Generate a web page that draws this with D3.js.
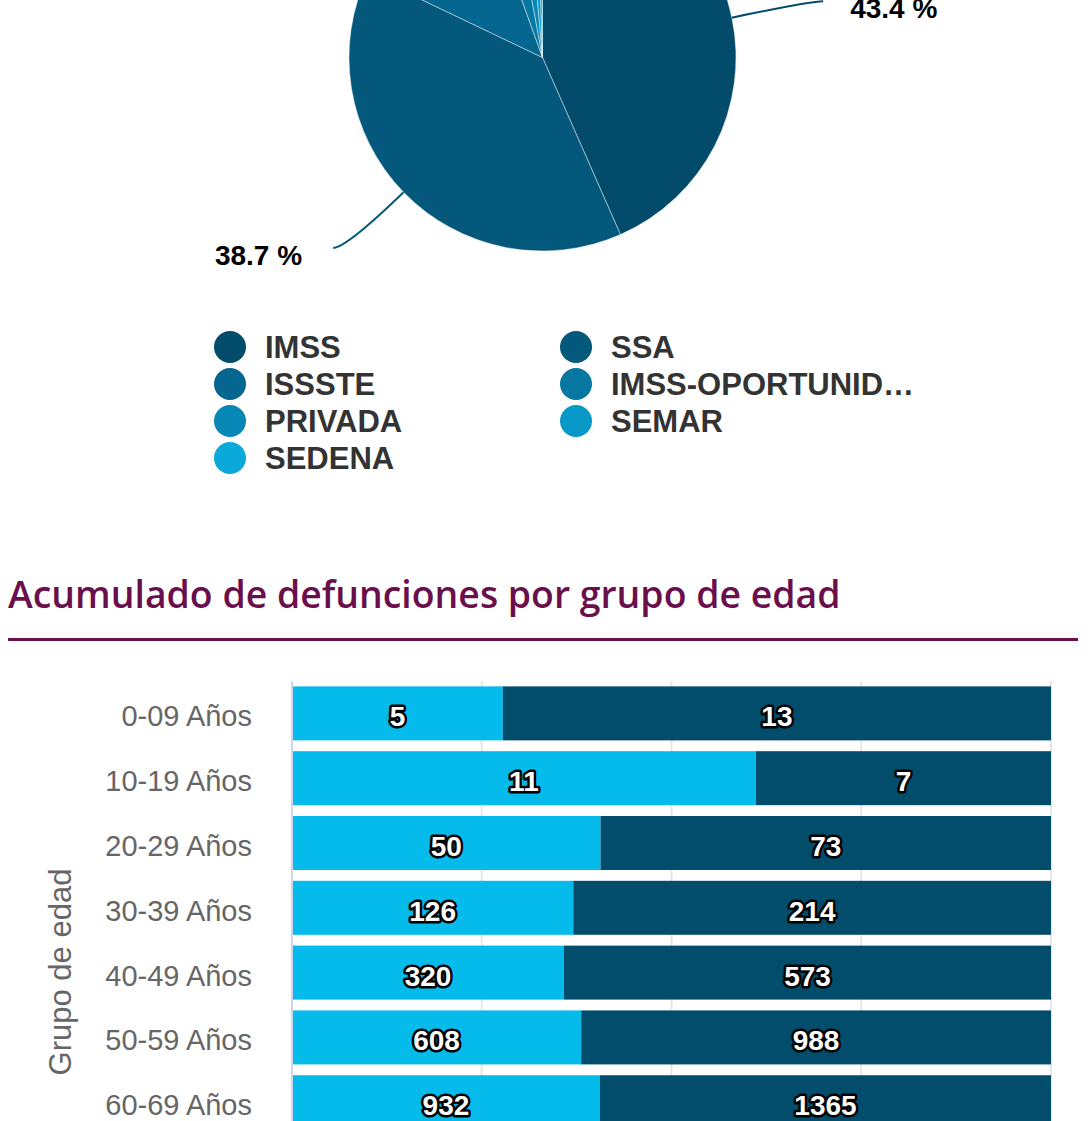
<!DOCTYPE html>
<html>
<head>
<meta charset="utf-8">
<script src="https://cdn.jsdelivr.net/npm/d3@7"></script>
<style>
  html, body { margin: 0; padding: 0; background: #fff; }
  svg { display: block; }
</style>
</head>
<body>
<svg id="chart" width="1090" height="1121"></svg>
<script>
// pie: deaths by institution (percent)
const institutions = ['IMSS', 'SSA', 'ISSSTE', 'IMSS-OPORTUNIDADES', 'PRIVADA', 'SEMAR', 'SEDENA']
const instShare = [43.4, 38.7, 12.4, 2.6, 1.5, 0.9, 0.5]
const instColors = ['#034b6a', '#04587b', '#05678f', '#0677a3', '#0787b6', '#0898c8', '#0aa9da']

// stacked bars: deaths by age group
const ages = ['0-09 Años', '10-19 Años', '20-29 Años', '30-39 Años', '40-49 Años', '50-59 Años', '60-69 Años']
const mujeres = [5, 11, 50, 126, 320, 608, 932]
const hombres = [13, 7, 73, 214, 573, 988, 1365]
const xTicks = [0, 0.25, 0.5, 0.75, 1]

const TITLE_COLOR = '#6a0f4c'
const LIGHT = '#04bbeb'
const DARK = '#024d6c'

const svg = d3.select('#chart')

//
// PIE ----------------------------------------------------------------------
//
const cx = 542.5, cy = 57.5, r = 193.5

const pie = d3.pie().sort(null).value(d => d)
const arcs = pie(instShare)
const arc = d3.arc().innerRadius(0).outerRadius(r)

const gPie = svg.append('g').attr('transform', 'translate(' + cx + ',' + cy + ')')

gPie.selectAll('path.slice').data(arcs).enter()
  .append('path')
    .attr('class', 'slice')
    .attr('d', arc)
    .attr('fill', (d, i) => instColors[i])
    .attr('stroke', '#fff')
    .attr('stroke-opacity', 0.55)
    .attr('stroke-width', 0.8)
    .attr('stroke-linejoin', 'round')

// connectors + percent labels (the ones up top sit above the frame, skip them)
const edgeArc = d3.arc().innerRadius(r).outerRadius(r)
const outArc = d3.arc().innerRadius(r + 80).outerRadius(r + 80)

arcs.forEach((d, i) => {
  const [ex, ey] = edgeArc.centroid(d)
  const [ox, oy] = outArc.centroid(d)
  if (cy + oy + 17 < 0) return
  const right = ox >= 0
  const endX = ox + (right ? 13 : -13)
  gPie.append('path')
    .attr('d', 'M' + ex + ',' + ey + 'Q' + ox + ',' + oy + ' ' + endX + ',' + oy)
    .attr('fill', 'none')
    .attr('stroke', instColors[i])
    .attr('stroke-width', 2)
  gPie.append('text')
    .attr('x', endX + (right ? 27 : -31))
    .attr('y', oy + 17)
    .attr('text-anchor', right ? 'start' : 'end')
    .style('font-family', '"Liberation Sans", Arial, sans-serif')
    .style('font-weight', 'bold')
    .style('font-size', '28px')
    .attr('fill', '#000')
    .text(d3.format('.1f')(instShare[i]) + ' %')
})

// legend, two columns filled row by row
const legend = svg.append('g')
legend.selectAll('g.item').data(institutions).enter()
  .append('g')
    .attr('class', 'item')
    .attr('transform', (d, i) => 'translate(' + (230 + (i % 2) * 346) + ',' + (347 + Math.floor(i / 2) * 37) + ')')
    .each(function (d, i) {
      const g = d3.select(this)
      g.append('circle').attr('r', 16).attr('fill', instColors[i])
      const t = g.append('text')
        .attr('x', 35)
        .attr('y', 11)
        .style('font-family', '"Liberation Sans", Arial, sans-serif')
        .style('font-weight', 'bold')
        .style('font-size', '31px')
        .attr('fill', '#333')
        .text(d)
      // ellipsis for long names
      let s = d
      while (t.node().getComputedTextLength() > 315 && s.length > 1) {
        s = s.slice(0, -1)
        t.text(s + '…')
      }
    })

//
// SECTION TITLE ------------------------------------------------------------
//
svg.append('text')
  .attr('x', 8)
  .attr('y', 608)
  .style('font-family', '"Open Sans", sans-serif')
  .style('font-weight', 600)
  .style('font-size', '37.4px')
  .attr('fill', TITLE_COLOR)
  .text('Acumulado de defunciones por grupo de edad')

svg.append('rect')
  .attr('x', 8).attr('y', 638)
  .attr('width', 1070).attr('height', 3)
  .attr('fill', TITLE_COLOR)

//
// STACKED BARS -------------------------------------------------------------
//
const plotLeft = 292, plotRight = 1051, plotTop = 681
const plotH = 582 // full plot height, lower rows fall outside the frame
const rowStep = 64.8

const xScale = d3.scaleLinear().domain([0, 1]).range([plotLeft, plotRight])
const yScale = d3.scaleBand()
  .domain(ages)
  .range([plotTop, plotTop + rowStep * ages.length])
  .paddingInner(0.167)
  .paddingOuter(0.083)

// grid
svg.append('g').selectAll('line').data(xTicks).enter()
  .append('line')
    .attr('x1', d => xScale(d)).attr('x2', d => xScale(d))
    .attr('y1', plotTop).attr('y2', plotTop + plotH)
    .attr('stroke', '#e6e6e6')
    .attr('stroke-width', 2)

const rows = ages.map((a, i) => ({ age: a, mujeres: mujeres[i], hombres: hombres[i] }))
const stack = d3.stack().keys(['mujeres', 'hombres']).offset(d3.stackOffsetExpand)
const layers = stack(rows)
const colors = { mujeres: LIGHT, hombres: DARK }

const gBars = svg.append('g')
layers.forEach(layer => {
  gBars.selectAll('rect.' + layer.key).data(layer).enter()
    .append('rect')
      .attr('class', layer.key)
      .attr('x', d => xScale(d[0]))
      .attr('y', d => yScale(d.data.age))
      .attr('width', d => xScale(d[1]) - xScale(d[0]))
      .attr('height', yScale.bandwidth())
      .attr('fill', colors[layer.key])
})

// data labels
layers.forEach(layer => {
  gBars.selectAll('text.' + layer.key).data(layer).enter()
    .append('text')
      .attr('class', layer.key)
      .attr('x', d => (xScale(d[0]) + xScale(d[1])) / 2)
      .attr('y', d => yScale(d.data.age) + yScale.bandwidth() / 2 + 13)
      .attr('text-anchor', 'middle')
      .style('font-family', '"Liberation Sans", Arial, sans-serif')
      .style('font-weight', 'bold')
      .style('font-size', '28px')
      .attr('fill', '#fff')
      .attr('stroke', '#000')
      .attr('stroke-width', 5)
      .attr('stroke-linejoin', 'round')
      .attr('paint-order', 'stroke')
      .text(d => d.data[layer.key])
})

// y axis line
svg.append('line')
  .attr('x1', plotLeft).attr('x2', plotLeft)
  .attr('y1', plotTop).attr('y2', plotTop + plotH)
  .attr('stroke', '#ccd6eb')
  .attr('stroke-width', 2)

// category labels
svg.append('g').selectAll('text').data(ages).enter()
  .append('text')
    .attr('x', 252)
    .attr('y', d => yScale(d) + yScale.bandwidth() / 2 + 13)
    .attr('text-anchor', 'end')
    .style('font-family', '"Liberation Sans", Arial, sans-serif')
    .style('font-size', '29px')
    .attr('fill', '#666')
    .text(d => d)

// axis title
svg.append('text')
  .attr('transform', 'translate(71,' + (plotTop + plotH / 2) + ') rotate(-90)')
  .attr('text-anchor', 'middle')
  .style('font-family', '"Liberation Sans", Arial, sans-serif')
  .style('font-size', '31px')
  .attr('fill', '#666')
  .text('Grupo de edad')
</script>
</body>
</html>
